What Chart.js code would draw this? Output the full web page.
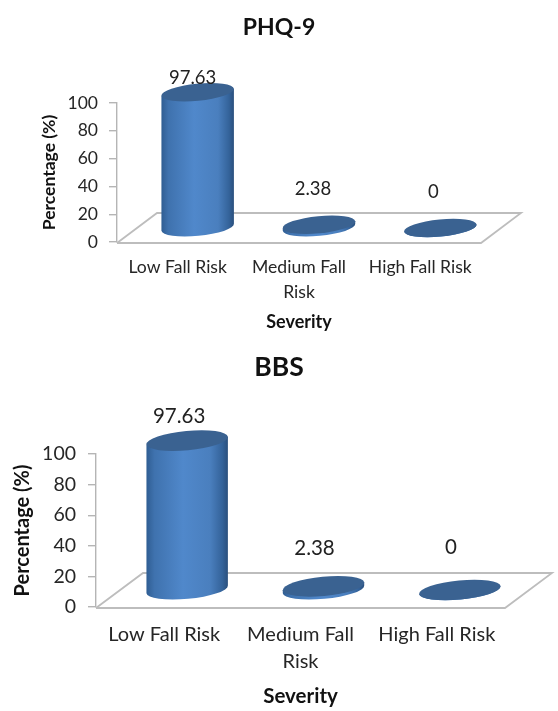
<!DOCTYPE html>
<html><head><meta charset="utf-8">
<style>
html,body{margin:0;padding:0;background:#fff;width:558px;height:711px;overflow:hidden}
canvas{position:absolute;left:0;filter:blur(0.35px)}
#c1{top:0}#c2{top:350px}
</style>
<script src="https://cdn.jsdelivr.net/npm/chart.js@4"></script>
</head><body>
<canvas id="c1" width="558" height="350"></canvas>
<canvas id="c2" width="558" height="361"></canvas>
<script>
const categories = ['Low Fall Risk', ['Medium Fall', 'Risk'], 'High Fall Risk'];
const phqValues = [97.63, 2.38, 0];
const bbsValues = [97.63, 2.38, 0];
const phqTitle = 'PHQ-9';
const bbsTitle = 'BBS';
const yAxisTitle = 'Percentage (%)';
const xAxisTitle = 'Severity';

const FONT = 'Lato, "Open Sans", sans-serif';

const cylinderPlugin = {
  id: 'cylinder3d',
  afterLayout(chart) {
    // centre the title on the whole canvas rather than between the layout paddings
    if (chart.titleBlock) {
      chart.titleBlock.left = 0;
      chart.titleBlock.right = chart.width;
    }
  },
  beforeDatasetsDraw(chart, args, o) {
    const {ctx, chartArea: a} = chart;
    ctx.save();
    ctx.strokeStyle = '#bdbdbd';
    ctx.lineWidth = 1.8;
    ctx.beginPath();
    ctx.moveTo(a.left, a.bottom + 1);
    ctx.lineTo(a.left + o.depthX, a.bottom - o.depthY);
    ctx.lineTo(a.right + o.depthX, a.bottom - o.depthY);
    ctx.lineTo(a.right, a.bottom + 1);
    ctx.lineTo(a.left, a.bottom + 1);
    ctx.stroke();
    ctx.restore();
  },
  afterDatasetsDraw(chart, args, o) {
    const {ctx} = chart;
    const meta = chart.getDatasetMeta(0);
    const rot = -0.095;
    const cos = Math.cos(rot), sin = Math.sin(rot);
    meta.data.forEach((bar, i) => {
      const cx = bar.x + o.shiftX;
      const baseY = bar.base + o.shiftY;
      const topY = bar.y + o.shiftY;
      const ra = bar.width / 2;
      const rb = ra * 0.235;
      ctx.save();
      const g = ctx.createLinearGradient(cx - ra, 0, cx + ra, 0);
      g.addColorStop(0, '#2f5d92');
      g.addColorStop(0.1, '#3f72ae');
      g.addColorStop(0.45, '#5088cb');
      g.addColorStop(0.78, '#4a7fbe');
      g.addColorStop(0.93, '#34639a');
      g.addColorStop(1, '#2a4f7c');
      ctx.fillStyle = g;
      ctx.beginPath();
      ctx.moveTo(cx - ra * cos, baseY - ra * sin);
      ctx.lineTo(cx - ra * cos, topY - ra * sin);
      ctx.lineTo(cx + ra * cos, topY + ra * sin);
      ctx.lineTo(cx + ra * cos, baseY + ra * sin);
      ctx.ellipse(cx, baseY, ra, rb, rot, 0, Math.PI, false);
      ctx.closePath();
      ctx.fill();
      ctx.fillStyle = '#3a6291';
      ctx.beginPath();
      ctx.ellipse(cx, topY, ra, rb, rot, 0, Math.PI * 2);
      ctx.fill();
      ctx.restore();
      // value label
      const ds = chart.data.datasets[0];
      ctx.save();
      ctx.fillStyle = '#222';
      ctx.font = o.labelFont + 'px ' + FONT;
      ctx.textAlign = 'center';
      ctx.textBaseline = 'middle';
      ctx.fillText(String(ds.data[i]), cx + o.labelDX[i], topY - o.labelDY[i]);
      ctx.restore();
    });
  }
};

function makeChart(id, values, cfg) {
  return new Chart(document.getElementById(id), {
    type: 'bar',
    plugins: [cylinderPlugin],
    data: {
      labels: categories,
      datasets: [{
        data: values,
        backgroundColor: 'rgba(0,0,0,0)',
        borderWidth: 0,
        barPercentage: 0.6,
        categoryPercentage: 1
      }]
    },
    options: {
      responsive: false,
      animation: false,
      devicePixelRatio: 1,
      layout: {padding: {left: cfg.padLeft, right: cfg.padRight, top: 0, bottom: cfg.padBottom}},
      plugins: {
        legend: {display: false},
        tooltip: {enabled: false},
        title: {
          display: true,
          text: cfg.title,
          color: '#111',
          font: {family: FONT, size: cfg.titleSize, weight: 'bold'},
          padding: cfg.titlePad
        },
        cylinder3d: cfg.cyl
      },
      scales: {
        x: {
          afterFit(s) { s.height = cfg.xHeight; },
          grid: {display: true, drawOnChartArea: false, drawTicks: false, color: 'rgba(0,0,0,0)'},
          border: {display: false},
          ticks: {
            color: '#262626',
            padding: cfg.xTickPad,
            maxRotation: 0,
            font: {family: FONT, size: cfg.xFont, lineHeight: cfg.xLine}
          },
          title: {
            display: true,
            text: xAxisTitle,
            color: '#111',
            font: {family: FONT, size: cfg.xTitleFont, weight: 'bold'},
            padding: {top: 0, bottom: 0}
          }
        },
        y: {
          min: 0,
          max: 100,
          afterFit(s) { s.width = cfg.yWidth; },
          grid: {display: true, drawOnChartArea: false, drawTicks: true, tickLength: cfg.tickLen, color: '#b5b5b5', lineWidth: 1.4},
          border: {display: true, color: '#b5b5b5', width: 1.4},
          ticks: {
            stepSize: 20,
            color: '#262626',
            padding: cfg.yTickPad,
            font: {family: FONT, size: cfg.yFont}
          },
          title: {
            display: true,
            text: yAxisTitle,
            color: '#111',
            font: {family: FONT, size: cfg.axisFont, weight: 'bold'},
            padding: {top: 0, bottom: 0}
          }
        }
      }
    }
  });
}

makeChart('c1', phqValues, {
  title: phqTitle, titleSize: 23, titlePad: {top: 14, bottom: 61.4},
  padLeft: 38.5, padRight: 77, padBottom: 17,
  yWidth: 78.5, xHeight: 91, tickLen: 8,
  xTickPad: 13, xFont: 17.6, xLine: 1.4, yTickPad: 11, yFont: 17.5, axisFont: 17.5, xTitleFont: 18,
  cyl: {depthX: 40, depthY: 29, shiftX: 20, shiftY: -14, labelFont: 18.5,
        labelDX: [-5, -6, -7], labelDY: [14, 36, 36]}
});

makeChart('c2', bbsValues, {
  title: bbsTitle, titleSize: 26.5, titlePad: {top: 2, bottom: 70.2},
  padLeft: 11, padRight: 53, padBottom: 2.7,
  yWidth: 85, xHeight: 101.3, tickLen: 8,
  xTickPad: 14.5, xFont: 20, xLine: 1.35, yTickPad: 12, yFont: 19.5, axisFont: 20, xTitleFont: 20.5,
  cyl: {depthX: 47, depthY: 34, shiftX: 23, shiftY: -17, labelFont: 20.5,
        labelDX: [-8, -9, -9], labelDY: [24, 38, 43]}
});
</script>
</body></html>
